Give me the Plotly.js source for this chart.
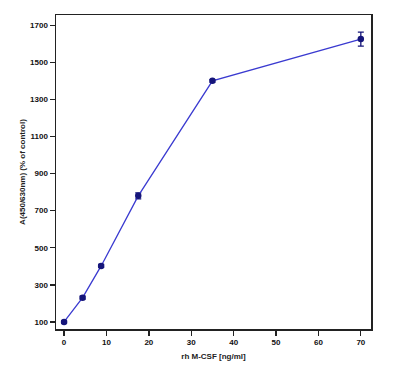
<!DOCTYPE html>
<html>
<head>
<meta charset="utf-8">
<script src="https://cdn.plot.ly/plotly-3.0.1.min.js"></script>
<style>html,body{margin:0;padding:0;background:#fff;}#chart{width:400px;height:365px;}</style>
</head>
<body>
<div id="chart"></div>
<script>
const concentrations = [0, 4.375, 8.75, 17.5, 35, 70];
const absorbance = [100, 231, 402, 780, 1400, 1625];
const errors = [6, 8, 8, 16, 7, 38];
const xTicks = [0, 10, 20, 30, 40, 50, 60, 70];
const yTicks = [100, 300, 500, 700, 900, 1100, 1300, 1500, 1700];

const tickFont = {family: 'Liberation Sans, Arial, sans-serif', size: 8, color: '#111', weight: 'bold'};

Plotly.newPlot('chart', [{
  x: concentrations,
  y: absorbance,
  type: 'scatter',
  mode: 'lines+markers',
  line: {color: '#3a3ad0', width: 1.3},
  marker: {color: '#15157a', size: 6.5, symbol: 'circle'},
  error_y: {type: 'data', array: errors, visible: true, color: '#15157a', thickness: 1.3, width: 3},
  showlegend: false
}], {
  width: 400, height: 365,
  margin: {l: 56, r: 29, t: 15, b: 36},
  paper_bgcolor: '#fff', plot_bgcolor: '#fff',
  xaxis: {
    range: [-1.9, 72.4], tickvals: xTicks, ticktext: xTicks.map(String),
    showgrid: false, zeroline: false, showline: true, linecolor: '#222', linewidth: 1.5, mirror: true,
    ticks: 'outside', ticklen: 5, tickcolor: '#222', tickwidth: 1.3, tickfont: tickFont,
    title: {text: '<b>rh M-CSF [ng/ml]</b>', font: {family: 'Liberation Sans, Arial, sans-serif', size: 8, color: '#222'}, standoff: 7}
  },
  yaxis: {
    range: [62, 1755], tickvals: yTicks, ticktext: yTicks.map(String),
    showgrid: false, zeroline: false, showline: true, linecolor: '#222', linewidth: 1.5, mirror: true,
    ticks: 'outside', ticklen: 5, tickcolor: '#222', tickwidth: 1.3, tickfont: tickFont,
    title: {text: '<b>A(450/630nm) (% of control)</b>', font: {family: 'Liberation Sans, Arial, sans-serif', size: 8, color: '#222'}, standoff: 3}
  }
}, {staticPlot: true});
</script>
</body>
</html>
